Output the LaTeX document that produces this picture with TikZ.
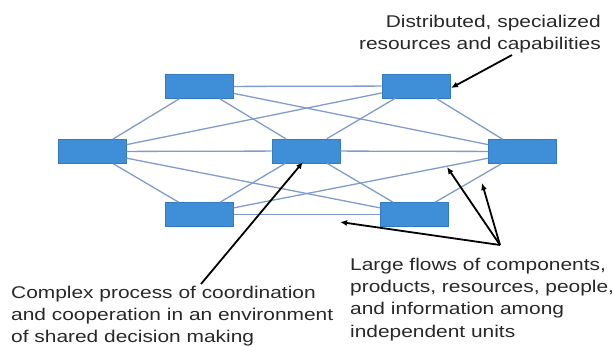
\documentclass[tikz,border=0pt]{standalone}
\usepackage{fontspec}
\setmainfont{Liberation Sans}[FakeStretch=1.23]
\usetikzlibrary{arrows.meta,calc}
\definecolor{boxfill}{RGB}{62,143,216}
\definecolor{boxdraw}{RGB}{52,122,192}
\definecolor{edgecol}{RGB}{128,156,204}
\definecolor{txt}{RGB}{40,40,40}
\begin{document}
\begin{tikzpicture}[x=1pt,y=-1pt,
  unit/.style={draw=boxdraw,fill=boxfill,line width=0.6pt,minimum width=68pt,minimum height=24pt,inner sep=0pt},
  link/.style={draw=edgecol,line width=1.3pt},
  callout/.style={draw=black,line width=1.8pt,-{Latex[length=7pt,width=6pt]}},
  label/.style={text=txt,inner sep=0pt,font={\fontsize{17}{22.3}\selectfont}}]
\useasboundingbox (0,0) rectangle (613,346);
% units
\node[unit] (A) at (199.5,86.5) {};
\node[unit] (B) at (416,86) {};
\node[unit] (L) at (92.5,151.5) {};
\node[unit] (C) at (306,151) {};
\node[unit] (R) at (522.5,151.5) {};
\node[unit] (D) at (199.5,214.5) {};
\node[unit] (E) at (414,214.5) {};
% links
\draw[link] (A) -- (B);
\draw[link] (A) -- (L);
\draw[link] (A) -- (C);
\draw[link] (A) -- (R);
\draw[link] (B) -- (L);
\draw[link] (B) -- (C);
\draw[link] (B) -- (R);
\draw[link] (L) -- (C);
\draw[link] (C) -- (R);
\draw[link] (L) -- (D);
\draw[link] (L) -- (E);
\draw[link] (D) -- (C);
\draw[link] (D) -- (R);
\draw[link] (D) -- (E);
\draw[link] (C) -- (E);
\draw[link] (E) -- (R);
% labels
\node[label,anchor=north east,align=right] (t1) at (601,14.6)
  {Distributed, specialized\\resources and capabilities};
\node[label,anchor=north west,align=left] (t2) at (11,285.6)
  {Complex process of coordination\\and cooperation in an environment\\of shared decision making};
\node[label,anchor=north west,align=left] (t3) at (350,257.6)
  {Large flows of components,\\products, resources, people,\\and information among\\independent units};
% callouts
\coordinate (s1) at (512,55);
\coordinate (h1) at (451,88);
\coordinate (s2) at (201,284);
\coordinate (h2) at (303,162);
\coordinate (s3) at (500,245);
\coordinate (h3a) at (447,167);
\coordinate (h3b) at (482,183);
\coordinate (h3c) at (340,222);
\draw[callout] (s1) -- (h1);
\draw[callout] (s2) -- (h2);
\draw[callout] (s3) -- (h3a);
\draw[callout] (s3) -- (h3b);
\draw[callout] (s3) -- (h3c);
\end{tikzpicture}
\end{document}
